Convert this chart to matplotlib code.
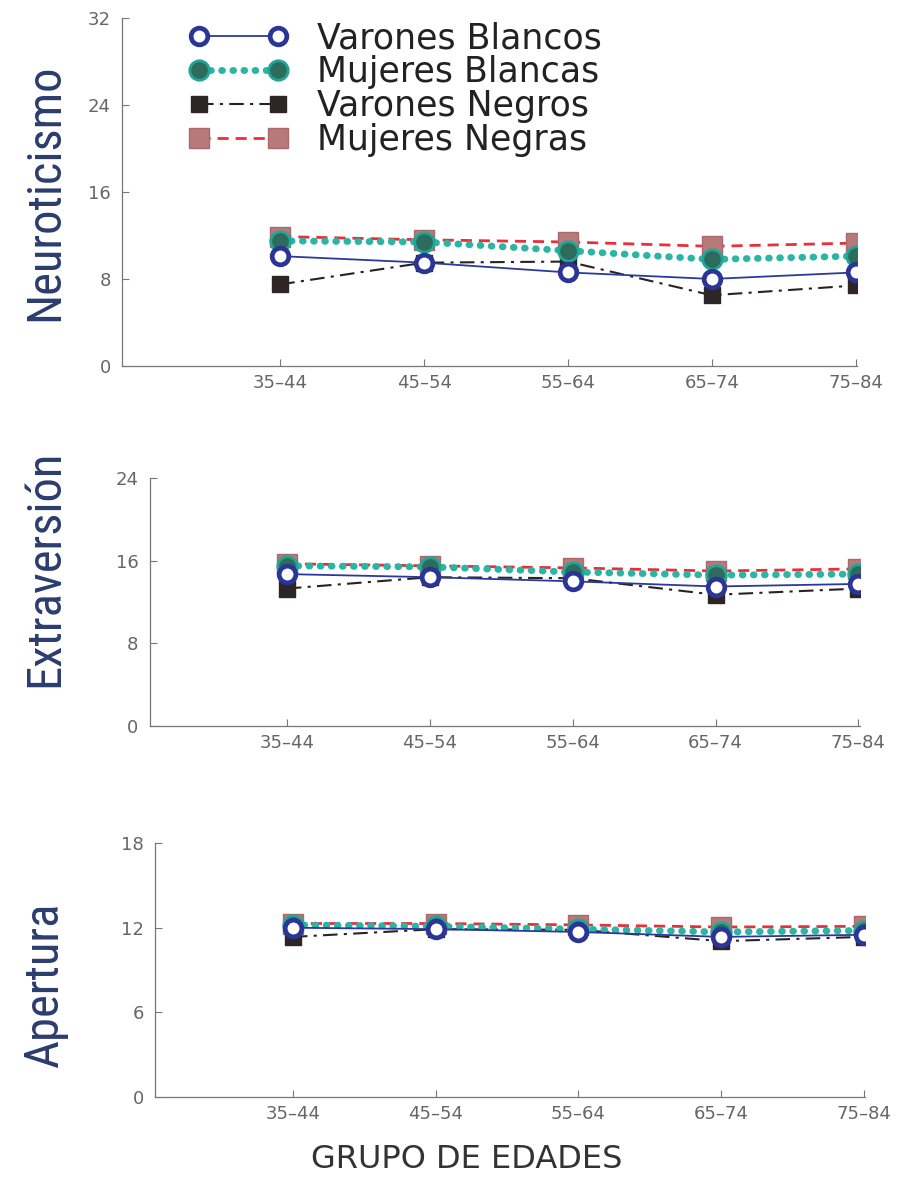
import matplotlib
matplotlib.use("Agg")
import matplotlib.pyplot as plt

groups = ["35–44", "45–54", "55–64", "65–74", "75–84"]
series = ["Varones Blancos", "Mujeres Blancas", "Varones Negros", "Mujeres Negras"]

neuro_vb = [10.1, 9.5, 8.6, 8.0, 8.6]
neuro_mb = [11.5, 11.4, 10.6, 9.8, 10.1]
neuro_vn = [7.5, 9.5, 9.6, 6.5, 7.4]
neuro_mn = [11.9, 11.6, 11.4, 11.0, 11.3]

extra_vb = [14.7, 14.4, 14.0, 13.5, 13.75]
extra_mb = [15.5, 15.4, 14.9, 14.6, 14.7]
extra_vn = [13.3, 14.4, 14.3, 12.7, 13.3]
extra_mn = [15.7, 15.5, 15.3, 15.0, 15.2]

aper_vb = [12.0, 11.9, 11.7, 11.35, 11.5]
aper_mb = [12.2, 12.1, 11.9, 11.7, 11.8]
aper_vn = [11.35, 11.9, 11.85, 11.05, 11.35]
aper_mn = [12.3, 12.3, 12.2, 12.05, 12.1]

panel_titles = ["Neuroticismo", "Extraversión", "Apertura"]
panel_ylims = [32, 24, 18]
panel_yticks = [[0, 8, 16, 24, 32], [0, 8, 16, 24], [0, 6, 12, 18]]

fig = plt.figure(figsize=(9.07, 12.01), dpi=100)

positions = [
    [0.1345, 0.6953, 0.945 - 0.1345, 0.985 - 0.6953],
    [0.165, 0.3955, 0.948 - 0.165, 0.602 - 0.3955],
    [0.171, 0.0866, 0.954 - 0.171, 0.298 - 0.0866],
]
xlefts = [-1.1, -0.96, -0.965]
data = [
    (neuro_vb, neuro_mb, neuro_vn, neuro_mn),
    (extra_vb, extra_mb, extra_vn, extra_mn),
    (aper_vb, aper_mb, aper_vn, aper_mn),
]
label_y = [192 / 1201, 568 / 1201, 985 / 1201]

styles = {
    "mn": dict(color="#e8303a", ls=(0, (4, 2.5)), lw=2.0, marker="s", ms=15,
               mfc="#b8797a", mec="#a86a6a", mew=1.0, zorder=2),
    "mb": dict(color="#2ab5a5", ls=(0, (0.1, 1.5)), lw=5.0, marker="o", ms=14,
               mfc="#2d6b5c", mec="#23a596", mew=2.0, zorder=4, dash_capstyle="round",
               solid_capstyle="round"),
    "vn": dict(color="#2a2222", ls=(0, (7, 3, 1.5, 3)), lw=1.5, marker="s", ms=12,
               mfc="#2e2626", mec="#2e2626", zorder=3),
    "vb": dict(color="#2b3a9a", ls="-", lw=1.3, marker="o", ms=12,
               mfc="white", mec="#2b3595", mew=3.4, zorder=5),
}

label_font = ["Roboto Condensed", "DejaVu Sans"]

x = list(range(len(groups)))
for i in range(3):
    ax = fig.add_axes(positions[i])
    vb, mb, vn, mn = data[i]
    h_mn, = ax.plot(x, mn, **styles["mn"])
    h_mb, = ax.plot(x, mb, **styles["mb"])
    h_vn, = ax.plot(x, vn, **styles["vn"])
    h_vb, = ax.plot(x, vb, **styles["vb"])
    ax.set_xlim(xlefts[i], 4.01)
    ax.set_ylim(0, panel_ylims[i])
    ax.set_yticks(panel_yticks[i])
    ax.set_xticks(x)
    ax.set_xticklabels(groups)
    for s in ["top", "right"]:
        ax.spines[s].set_visible(False)
    for s in ["left", "bottom"]:
        ax.spines[s].set_color("#777777")
        ax.spines[s].set_linewidth(0.9)
    ax.tick_params(axis="both", direction="in", colors="#777777", labelcolor="#666666",
                   labelsize=13, length=5, width=0.8)
    ax.tick_params(axis="y", pad=8)
    ax.tick_params(axis="x", pad=6)
    fig.text(0.05, 1 - label_y[i], panel_titles[i], rotation=90, ha="center", va="center",
             fontsize=35, color="#2b3d6e", family=label_font, fontstretch="condensed")
    if i == 0:
        leg = ax.legend([h_vb, h_mb, h_vn, h_mn], series, loc="upper left",
                        bbox_to_anchor=(0.09, 0.99), frameon=False, fontsize=25,
                        numpoints=2, handlelength=2.9, handletextpad=0.8,
                        labelspacing=0.0, borderpad=0.0, borderaxespad=0.0)
        for t in leg.get_texts():
            t.set_color("#222222")

fig.text(0.515, 1 - 1160 / 1201, "GRUPO DE EDADES", ha="center", va="center",
         fontsize=23, color="#333333")

fig.savefig("out.png", dpi=100)
